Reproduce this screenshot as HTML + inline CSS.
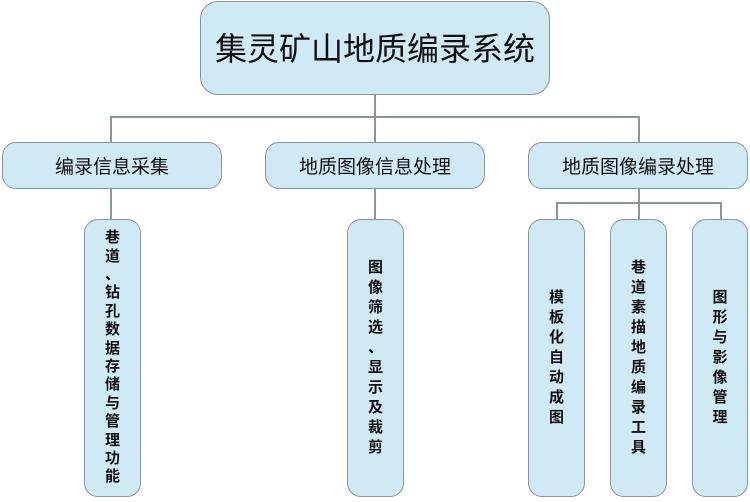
<!DOCTYPE html>
<html><head><meta charset="utf-8"><style>
body{margin:0;width:750px;height:502px;background:#fff;position:relative;overflow:hidden;font-family:"Liberation Sans","Noto Sans CJK SC",sans-serif;}
.b{position:absolute;box-sizing:border-box;background:#cfeaf5;border:1.5px solid #8a9599;display:flex;align-items:center;justify-content:center;color:#111;text-align:center;}
.l{position:absolute;background:#8a9599;}
.v{font-weight:bold;font-size:15px;line-height:20px;width:16px;}
</style></head><body>
<div class="l" style="left:374px;top:95px;width:1.5px;height:48px"></div>
<div class="l" style="left:110px;top:116px;width:529px;height:1.5px"></div>
<div class="l" style="left:110px;top:116px;width:1.5px;height:27px"></div>
<div class="l" style="left:638px;top:116px;width:1.5px;height:27px"></div>
<div class="l" style="left:110px;top:188px;width:1.5px;height:33px"></div>
<div class="l" style="left:374px;top:188px;width:1.5px;height:33px"></div>
<div class="l" style="left:638px;top:188px;width:1.5px;height:33px"></div>
<div class="l" style="left:556px;top:202px;width:165px;height:1.5px"></div>
<div class="l" style="left:556px;top:202px;width:1.5px;height:19px"></div>
<div class="l" style="left:720px;top:202px;width:1.5px;height:19px"></div>

<div class="b" style="left:200px;top:1px;width:350px;height:94px;border-radius:18px;font-size:32px;padding-bottom:2px">集灵矿山地质编录系统</div>
<div class="b" style="left:2px;top:142px;width:220px;height:47px;border-radius:14px;font-size:19px">编录信息采集</div>
<div class="b" style="left:265px;top:142px;width:220px;height:47px;border-radius:14px;font-size:19px">地质图像信息处理</div>
<div class="b" style="left:528px;top:142px;width:220px;height:47px;border-radius:14px;font-size:19px">地质图像编录处理</div>

<div class="b" style="left:84px;top:219px;width:57px;height:278px;border-radius:14px"><div class="v" style="line-height:18.4px">巷<br>道<br>、<br>钻<br>孔<br>数<br>据<br>存<br>储<br>与<br>管<br>理<br>功<br>能</div></div>
<div class="b" style="left:347px;top:219px;width:57px;height:278px;border-radius:14px"><div class="v">图<br>像<br>筛<br>选<br>、<br>显<br>示<br>及<br>裁<br>剪</div></div>
<div class="b" style="left:528px;top:219px;width:57px;height:278px;border-radius:14px"><div class="v">模<br>板<br>化<br>自<br>动<br>成<br>图</div></div>
<div class="b" style="left:610px;top:219px;width:57px;height:278px;border-radius:14px"><div class="v">巷<br>道<br>素<br>描<br>地<br>质<br>编<br>录<br>工<br>具</div></div>
<div class="b" style="left:692px;top:219px;width:56px;height:278px;border-radius:14px"><div class="v">图<br>形<br>与<br>影<br>像<br>管<br>理</div></div>
</body></html>
